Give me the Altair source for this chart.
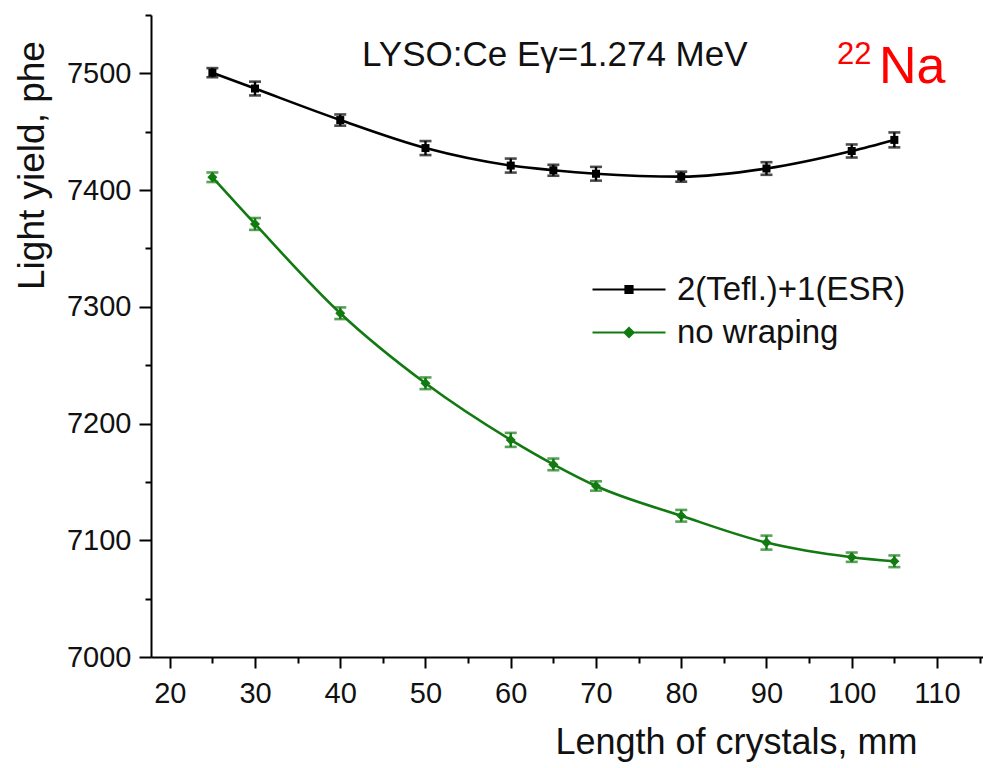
import altair as alt
import pandas as pd

# ---------------- data ----------------
lengths = [25, 30, 40, 50, 60, 65, 70, 80, 90, 100, 105]
teflon_esr = [7500.6, 7487, 7460, 7436, 7421, 7417, 7414, 7411.5, 7418.5, 7433.5, 7443]
teflon_esr_err = [3.9, 5.9, 4.8, 6.0, 6.0, 4.7, 5.9, 4.3, 5.4, 5.6, 6.4]
no_wrap = [7411, 7371, 7294.5, 7234.5, 7186, 7165, 7146.5, 7121, 7098, 7085.5, 7082]
no_wrap_err = [4.1, 5.1, 5.0, 5.0, 6.0, 5.0, 4.0, 5.0, 6.0, 4.0, 5.0]

series_names = ["2(Tefl.)+1(ESR)", "no wraping"]
series_colors = ["#000000", "#117a11"]
series_shapes = ["square", "diamond"]
series_sizes = [64, 100]

x_major = [20, 30, 40, 50, 60, 70, 80, 90, 100, 110]
x_minor = [25, 35, 45, 55, 65, 75, 85, 95, 105, 115]
y_major = [7000, 7100, 7200, 7300, 7400, 7500]
y_minor = [7050, 7150, 7250, 7350, 7450, 7550]

title_text = ["LYSO:Ce E\u03b3=1.274 MeV"]
iso_mass = ["22"]
iso_elem = ["Na"]

x_title = "Length of crystals, mm"
y_title = "Light yield, phe"

FONT = "Liberation Sans"

# ---------------- table ----------------
rows = []
for name, vals, errs in [(series_names[0], teflon_esr, teflon_esr_err),
                         (series_names[1], no_wrap, no_wrap_err)]:
    for L, v, e in zip(lengths, vals, errs):
        rows.append({"series": name, "len": L, "ly": v, "lo": v - e, "hi": v + e})
df = pd.DataFrame(rows)

xs = alt.Scale(domain=[17.8, 115.4], nice=False, zero=False)
ys = alt.Scale(domain=[7000, 7550], nice=False, zero=False)

x_axis = alt.Axis(
    values=x_major, orient="bottom", grid=False, title=x_title, format="d",
    tickSize=11, tickWidth=2, domainWidth=2, domainColor="black", tickColor="black",
    labelFont=FONT, labelFontSize=29, labelColor="#111111", labelPadding=11,
    labelFlush=False, labelOverlap=False,
    titleFont=FONT, titleFontSize=36, titleFontWeight="normal", titleColor="#111111",
    titleX=585, titleY=96, titleAlign="center", titleBaseline="alphabetic",
)
y_axis = alt.Axis(
    values=y_major, orient="left", grid=False, title=y_title, format="d",
    tickSize=12, tickWidth=2, domainWidth=2, domainColor="black", tickColor="black",
    labelFont=FONT, labelFontSize=29, labelColor="#111111", labelPadding=8,
    labelFlush=False, labelOverlap=False,
    titleFont=FONT, titleFontSize=37, titleFontWeight="normal", titleColor="#111111",
    titleX=-108, titleY=150, titleAngle=270, titleAlign="center", titleBaseline="alphabetic",
)

base = alt.Chart(df)

layers = []
for name, col, shp, sz in zip(series_names, series_colors, series_shapes, series_sizes):
    sub = base.transform_filter(alt.datum.series == name)
    line = sub.mark_line(color=col, strokeWidth=2.6, interpolate="monotone").encode(
        x=alt.X("len:Q", scale=xs, axis=x_axis),
        y=alt.Y("ly:Q", scale=ys, axis=y_axis),
    )
    err = sub.mark_errorbar(color=col, thickness=2.4,
                            ticks={"size": 12, "thickness": 2.6}).encode(
        x=alt.X("len:Q", scale=xs, axis=x_axis),
        y=alt.Y("lo:Q", scale=ys, axis=y_axis),
        y2="hi:Q",
    )
    pts = sub.mark_point(shape=shp, filled=True, size=sz, opacity=1, color=col).encode(
        x=alt.X("len:Q", scale=xs, axis=x_axis),
        y=alt.Y("ly:Q", scale=ys, axis=y_axis),
    )
    layers += [line, err, pts]

# legend symbols: line with marker (custom paths)
leg_paths = [
    "M-1,0L6.3,0M2.3,-0.35L3.0,-0.35L3.0,0.35L2.3,0.35Z",
    "M-1,0L6.3,0M2.65,-0.45L3.1,0L2.65,0.45L2.2,0Z",
]
leg = alt.Legend(
    title=None, orient="none", legendX=435, legendY=258,
    labelFont=FONT, labelFontSize=33, labelColor="#111111",
    labelOffset=58, symbolSize=400, symbolStrokeWidth=2.2, symbolOpacity=1,
    rowPadding=9, padding=0, labelLimit=400,
)

legend_layer = base.transform_filter("false").mark_point(filled=True, opacity=1).encode(
    x=alt.X("len:Q", scale=xs, axis=x_axis),
    y=alt.Y("ly:Q", scale=ys, axis=y_axis),
    shape=alt.Shape("series:N", scale=alt.Scale(domain=series_names, range=leg_paths), legend=leg),
    fill=alt.Fill("series:N", scale=alt.Scale(domain=series_names, range=series_colors), legend=leg),
    stroke=alt.Stroke("series:N", scale=alt.Scale(domain=series_names, range=series_colors), legend=leg),
)

minor = base.transform_filter("false").mark_point(opacity=1).encode(
    x=alt.X("len:Q", scale=xs, axis=alt.Axis(values=x_minor, orient="bottom", labels=False,
                                                domain=False, grid=False, title=None,
                                                tickSize=6, tickWidth=2, tickColor="black")),
    y=alt.Y("ly:Q", scale=ys, axis=alt.Axis(values=y_minor, orient="left", labels=False,
                                               domain=False, grid=False, title=None,
                                               tickSize=6, tickWidth=2, tickColor="black")),
)

t1 = alt.Chart(pd.DataFrame({"t": title_text})).mark_text(
    font=FONT, fontSize=35, color="#111111", align="left", baseline="alphabetic"
).encode(text="t:N", x=alt.value(211), y=alt.value(51))
t2 = alt.Chart(pd.DataFrame({"t": iso_mass})).mark_text(
    font=FONT, fontSize=31, color="#ff0000", align="left", baseline="alphabetic"
).encode(text="t:N", x=alt.value(686), y=alt.value(49))
t3 = alt.Chart(pd.DataFrame({"t": iso_elem})).mark_text(
    font=FONT, fontSize=52, color="#ff0000", align="left", baseline="alphabetic"
).encode(text="t:N", x=alt.value(728), y=alt.value(68))

inner = alt.layer(*layers, legend_layer, t1, t2, t3)

chart = alt.layer(inner, minor).resolve_axis(x="independent", y="independent").properties(
    width=832, height=642,
    autosize=alt.AutoSizeParams(type="none"),
    padding={"left": 151, "top": 15, "right": 0, "bottom": 111},
    background="white",
).configure_view(stroke=None)

chart.save("out.html", embed_options={"renderer": "svg", "actions": False})
